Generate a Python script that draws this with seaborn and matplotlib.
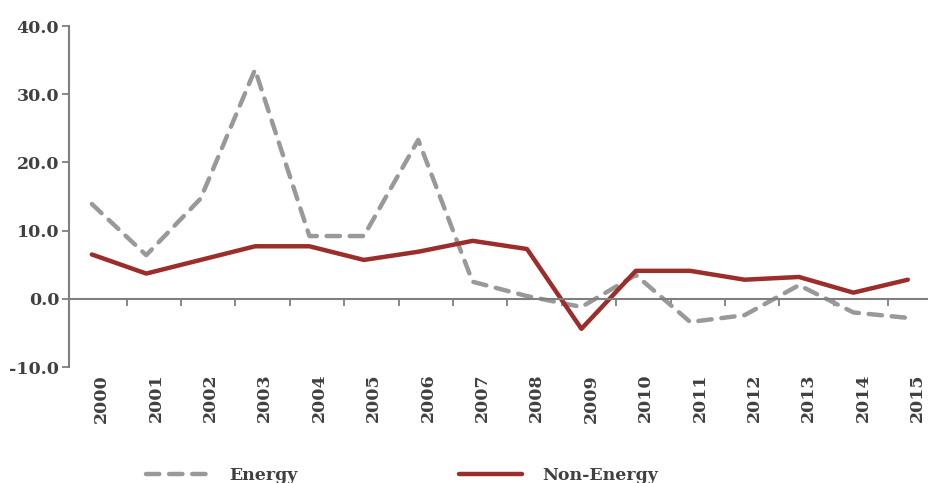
import matplotlib
matplotlib.use("Agg")
import matplotlib.pyplot as plt
import numpy as np
import pandas as pd
import seaborn as sns

# data
years = [str(y) for y in range(2000, 2016)]
energy = [13.9, 6.4, 14.7, 33.6, 9.2, 9.2, 23.3, 2.5, 0.4, -1.2, 3.5, -3.4, -2.4, 2.0, -2.0, -2.8]
non_energy = [6.5, 3.7, 5.7, 7.7, 7.7, 5.7, 6.9, 8.5, 7.3, -4.4, 4.1, 4.1, 2.8, 3.2, 0.9, 2.8]
y_ticks = [-10, 0, 10, 20, 30, 40]

sns.set_theme(style="white")
plt.rcParams['font.family'] = ['DejaVu Serif']
text_col = '#404040'
axis_col = '#7f7f7f'
fs = 12.5

df = pd.DataFrame({'pos': np.arange(len(years)), 'Energy': energy, 'Non-Energy': non_energy})

fig = plt.figure(figsize=(9.29, 4.83), dpi=100)
ax = fig.add_axes([69 / 929, 1 - 367 / 483, 1 - 69 / 929, (367 - 26) / 483])

sns.lineplot(data=df, x='pos', y='Energy', ax=ax, color='#999999', lw=3.2,
             linestyle=(0, (3, 2.2)), dash_capstyle='round', label='Energy')
sns.lineplot(data=df, x='pos', y='Non-Energy', ax=ax, color='#9b2d2a', lw=3.2,
             solid_capstyle='round', label='Non-Energy')

ax.set_xlim(-0.42, 15.39)
ax.set_ylim(-10, 40)
ax.set_xlabel('')
ax.set_ylabel('')

# y axis
ax.set_yticks(y_ticks)
ax.set_yticklabels([f'{v:.1f}' for v in y_ticks], fontsize=fs, fontweight='bold', color=text_col)
ax.tick_params(axis='y', direction='out', length=5, width=1.3, color=axis_col, left=True, pad=2)

# x axis sits on zero, ticks between categories, labels at the bottom
ax.spines['bottom'].set_position(('data', 0))
ax.spines['top'].set_visible(False)
ax.spines['right'].set_visible(False)
for s in ['left', 'bottom']:
    ax.spines[s].set_color(axis_col)
    ax.spines[s].set_linewidth(1.5)

ax.set_xticks(np.arange(len(years) - 1) + 0.64)
ax.set_xticklabels([])
ax.tick_params(axis='x', which='major', direction='out', length=5, width=1.3, color=axis_col, bottom=True)
ax.set_xticks(np.arange(len(years)) + 0.18, minor=True)
ax.set_xticklabels(years, minor=True, rotation=90, fontsize=fs, fontweight='bold', color=text_col)
ax.tick_params(axis='x', which='minor', length=0, pad=54)
for lbl in ax.get_xticklabels(minor=True):
    lbl.set_verticalalignment('top')

ax.legend_.remove()
handles, labels = ax.get_legend_handles_labels()
leg = fig.legend(handles, labels, loc='lower center', bbox_to_anchor=(0.433, -0.035), ncol=2,
                 frameon=False, handlelength=3.6, handletextpad=1.2, columnspacing=9.3,
                 prop={'weight': 'bold', 'size': fs})
for t in leg.get_texts():
    t.set_color(text_col)

fig.savefig('out.png', dpi=100)
